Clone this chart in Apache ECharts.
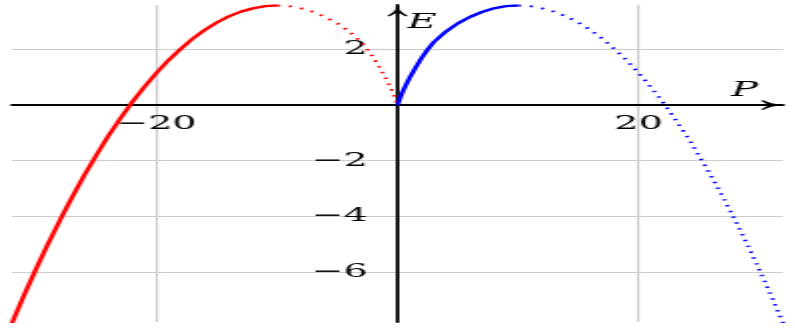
<!DOCTYPE html>
<html>
<head>
<meta charset="utf-8">
<script src="https://cdn.jsdelivr.net/npm/echarts@6/dist/echarts.min.js"></script>
<style>
html, body { margin: 0; padding: 0; background: #fff; overflow: hidden; }
#wrap { width: 795px; height: 328px; overflow: hidden; }
#chart { width: 398px; height: 328px; transform: scaleX(1.99749); transform-origin: 0 0; }
</style>
</head>
<body>
<div id="wrap"><div id="chart"></div></div>
<script>
// Tick labels
const xTickValues = [-20, 20];
const yTickValues = [-6, -4, -2, 2];

// Blue curve (P >= 0): solid part and dotted part
const blueSolidP = [0, 0.25, 0.5, 1, 1.5, 2, 2.5, 3, 4, 5, 6, 7, 8, 9, 10];
const blueSolidE = [0, 0.30, 0.55, 0.98, 1.35, 1.70, 2.00, 2.26, 2.64, 2.94, 3.17, 3.35, 3.48, 3.56, 3.58];
const blueDotP = [10, 11, 12, 13, 14, 15, 16, 17, 18, 19, 20, 21, 22, 23, 24, 25, 26, 27, 28, 29, 30, 31, 32];
const blueDotE = [3.58, 3.56, 3.48, 3.36, 3.19, 2.97, 2.70, 2.39, 2.02, 1.62, 1.16, 0.66, 0.12, -0.48, -1.11, -1.80, -2.52, -3.30, -4.12, -4.98, -5.89, -6.84, -7.84];

// Red curve (P <= 0): solid part and dotted part
const redSolidP = [-32, -31, -30, -29, -28, -27, -26, -25, -24, -23, -22, -21, -20, -19, -18, -17, -16, -15, -14, -13, -12, -11, -10];
const redSolidE = [-7.84, -6.84, -5.89, -4.98, -4.12, -3.30, -2.52, -1.80, -1.11, -0.48, 0.12, 0.66, 1.16, 1.62, 2.02, 2.39, 2.70, 2.97, 3.19, 3.36, 3.48, 3.56, 3.58];
const redDotP = [-10, -9, -8, -7, -6, -5, -4, -3, -2.5, -2, -1.5, -1, -0.5, -0.25, 0];
const redDotE = [3.58, 3.56, 3.48, 3.35, 3.17, 2.94, 2.64, 2.26, 2.00, 1.70, 1.35, 0.98, 0.55, 0.30, 0];

const X_MIN = -32, X_MAX = 32, Y_MIN = -7.8, Y_MAX = 3.6;

const pairs = (xs, ys) => xs.map((x, i) => [x, ys[i]]);
const font = "'DejaVu Serif', 'Liberation Serif', serif";
const fmt = v => String(v).replace('-', '\u2212');
const arrow = 'path://M5,0 C5.6,4 7.5,7.7 10,10 L9.2,11 C7.4,9.4 5.8,7.9 5,6.6 C4.2,7.9 2.6,9.4 0.8,11 L0,10 C2.5,7.7 4.4,4 5,0 Z';

const chart = echarts.init(document.getElementById('chart'));
chart.setOption({
  animation: false,
  backgroundColor: '#ffffff',
  grid: { left: 6, right: 6, top: 5, bottom: 6, containLabel: false, outerBoundsMode: 'none' },
  xAxis: {
    type: 'value', min: X_MIN, max: X_MAX, position: 'bottom', offset: 0,
    name: 'P', nameLocation: 'end', nameGap: -26,
    nameTextStyle: { fontFamily: font, fontStyle: 'italic', fontSize: 20, color: '#000', align: 'left', verticalAlign: 'bottom', padding: [0, 0, 4, 0] },
    axisLine: { onZero: false, lineStyle: { color: '#000', width: 1.8 }, symbol: ['none', arrow], symbolSize: [10, 11], symbolOffset: [0, -5.5] },
    axisTick: { show: false, customValues: xTickValues },
    axisLabel: { customValues: xTickValues, formatter: fmt, fontFamily: font, fontSize: 19, color: '#000', margin: 9 },
    splitLine: { show: true, lineStyle: { color: '#cccccc', width: 1.2 } }
  },
  yAxis: {
    type: 'value', min: Y_MIN, max: Y_MAX, position: 'left', offset: 0,
    name: 'E', nameLocation: 'end', nameGap: -8,
    nameTextStyle: { fontFamily: font, fontStyle: 'italic', fontSize: 20, color: '#000', align: 'left', verticalAlign: 'top', padding: [0, 0, 0, 5] },
    axisLine: { onZero: false, lineStyle: { color: '#000', width: 1.8 }, symbol: ['none', arrow], symbolSize: [10, 12], symbolOffset: [0, -6] },
    axisTick: { show: false, customValues: yTickValues },
    axisLabel: { customValues: yTickValues, formatter: fmt, fontFamily: font, fontSize: 19, color: '#000', margin: 15 },
    splitLine: { show: true, lineStyle: { color: '#cccccc', width: 1.2 } }
  },
  series: [
    { type: 'line', data: pairs(redSolidP, redSolidE), showSymbol: false, lineStyle: { color: '#ff0000', width: 2.4 } },
    { type: 'line', data: pairs(redDotP, redDotE), showSymbol: false, lineStyle: { color: '#ff0000', width: 2, type: [1.5, 4.5] } },
    { type: 'line', data: pairs(blueSolidP, blueSolidE), showSymbol: false, lineStyle: { color: '#0000ff', width: 2.4 } },
    { type: 'line', data: pairs(blueDotP, blueDotE), showSymbol: false, lineStyle: { color: '#0000ff', width: 2, type: [1.5, 4.5] } }
  ]
});

// Move both axes (line, labels, name) to the zero crossing, using the library's own scales
const zeroY = chart.convertToPixel({ yAxisIndex: 0 }, 0);
const bottomY = chart.convertToPixel({ yAxisIndex: 0 }, Y_MIN);
const zeroX = chart.convertToPixel({ xAxisIndex: 0 }, 0);
const leftX = chart.convertToPixel({ xAxisIndex: 0 }, X_MIN);
chart.setOption({
  xAxis: { offset: zeroY - bottomY },
  yAxis: { offset: leftX - zeroX }
});
</script>
</body>
</html>
